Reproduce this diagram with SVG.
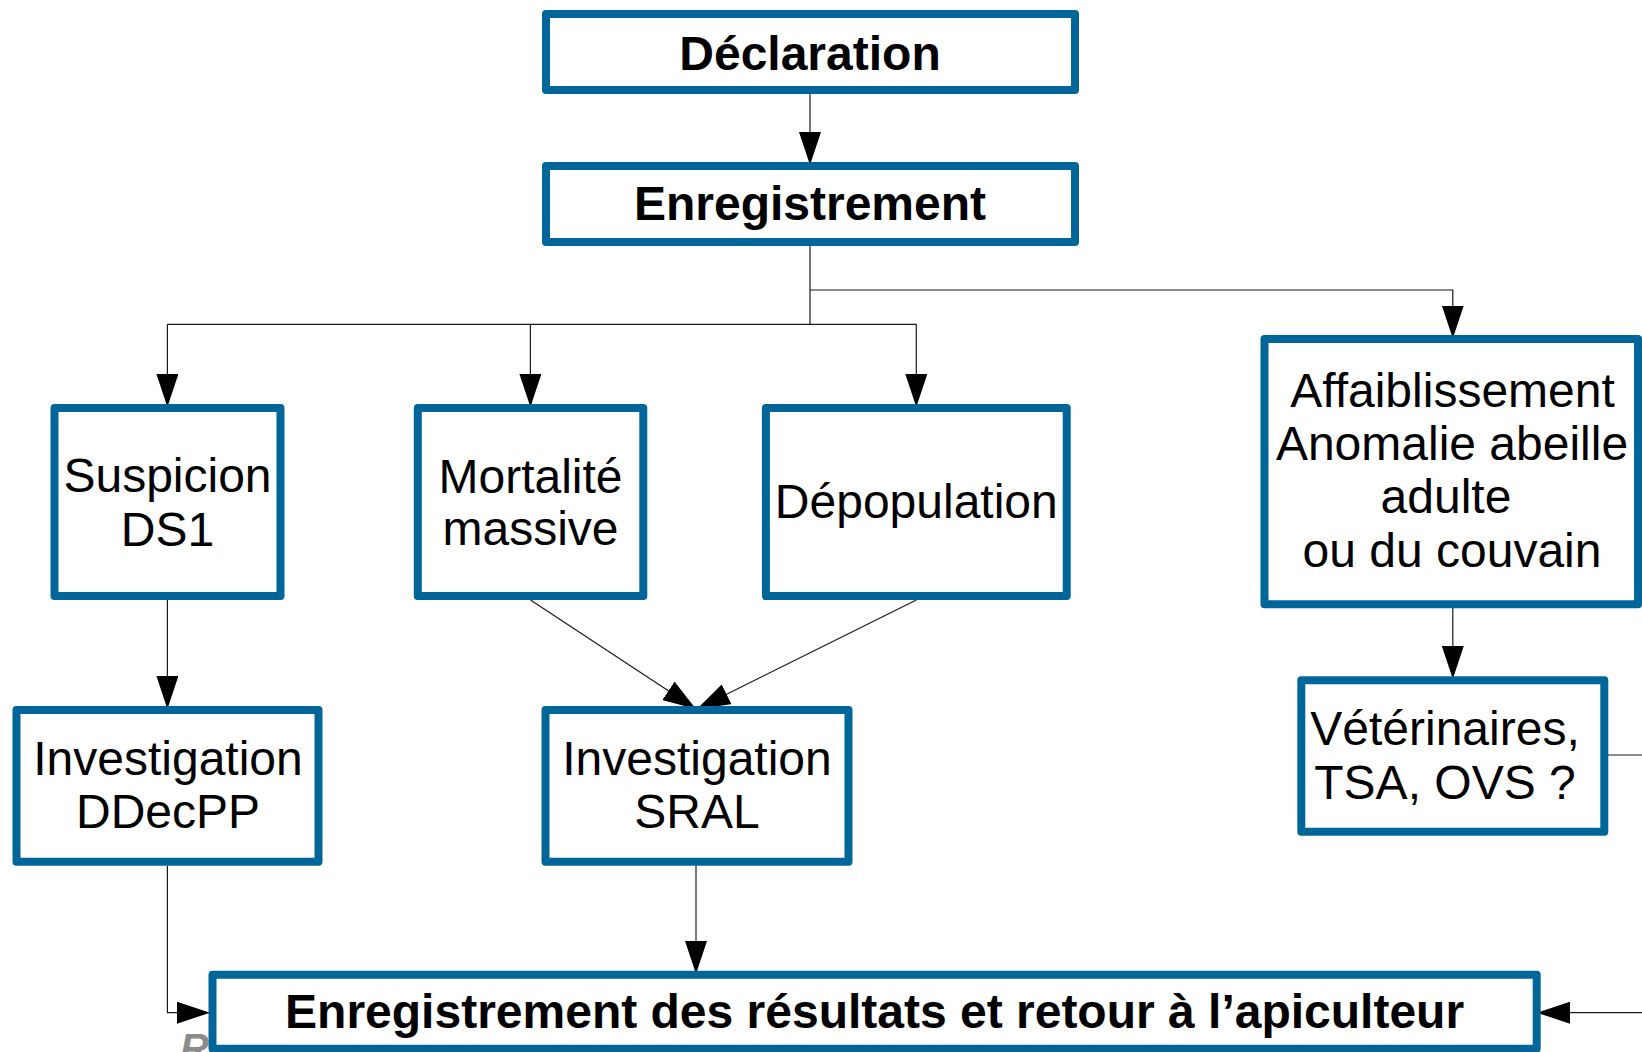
<svg xmlns="http://www.w3.org/2000/svg" width="1642" height="1052" viewBox="0 0 1642 1052">
<defs>
<style>
.box{fill:#fff;stroke:#006699;stroke-width:8;stroke-linejoin:round}
.t{font-family:"Liberation Sans",Arial,sans-serif;font-size:48px;fill:#000;text-anchor:middle}
.b{font-weight:bold}
.c{fill:none;stroke:#1a1a1a;stroke-width:1.2}
</style>
<marker id="ah" markerUnits="userSpaceOnUse" markerWidth="34" markerHeight="22" refX="33" refY="11" orient="auto">
<path d="M0,0 L33,11 L0,22 z" fill="#000"/>
</marker>
</defs>
<rect width="1642" height="1052" fill="#fff"/>
<text x="180" y="1062" font-family="'Liberation Sans',Arial,sans-serif" font-size="40" font-weight="bold" font-style="italic" fill="#8c8c8c">R</text>
<g id="connectors">
<path class="c" d="M810,94 V165" marker-end="url(#ah)"/>
<path class="c" d="M810,246 V324.3"/>
<path class="c" d="M167.4,324.3 H916.3"/>
<path class="c" d="M167.4,324.3 V407" marker-end="url(#ah)"/>
<path class="c" d="M530.4,324.3 V407" marker-end="url(#ah)"/>
<path class="c" d="M916.3,324.3 V407" marker-end="url(#ah)"/>
<path class="c" d="M810,290 H1452.8 V338.5" marker-end="url(#ah)"/>
<path class="c" d="M167.4,600 V709" marker-end="url(#ah)"/>
<path class="c" d="M530.5,600 L696,709" marker-end="url(#ah)"/>
<path class="c" d="M916.3,600 L697,709" marker-end="url(#ah)"/>
<path class="c" d="M1452.8,608 V679" marker-end="url(#ah)"/>
<path class="c" d="M167.4,865.7 V1012.7 H210" marker-end="url(#ah)"/>
<path class="c" d="M696,865.7 V974" marker-end="url(#ah)"/>
<path class="c" d="M1608,755 H1660 V1012.7 H1537" marker-end="url(#ah)"/>
</g>
<g id="declaration">
<rect class="box" x="546" y="14" width="529" height="76"/>
<text class="t b" x="810" y="70">Déclaration</text>
</g>
<g id="enregistrement">
<rect class="box" x="546" y="166" width="529" height="76"/>
<text class="t b" x="810" y="220">Enregistrement</text>
</g>
<g id="suspicion">
<rect class="box" x="54.5" y="408" width="226" height="188"/>
<text class="t" x="167.5" y="491.7">Suspicion</text>
<text class="t" x="167.5" y="546">DS1</text>
</g>
<g id="mortalite">
<rect class="box" x="417.8" y="408" width="225.5" height="188"/>
<text class="t" x="530.5" y="492.7">Mortalité</text>
<text class="t" x="530.5" y="545">massive</text>
</g>
<g id="depopulation">
<rect class="box" x="765.9" y="408" width="300.8" height="188"/>
<text class="t" x="916.3" y="518.3">Dépopulation</text>
</g>
<g id="affaiblissement">
<rect class="box" x="1264.5" y="339" width="373.5" height="265.3"/>
<text class="t" x="1452.5" y="406.7">Affaiblissement</text>
<text class="t" x="1452" y="460">Anomalie abeille</text>
<text class="t" x="1446" y="513.3">adulte</text>
<text class="t" x="1452" y="566.7">ou du couvain</text>
</g>
<g id="investigation-ddecpp">
<rect class="box" x="16.5" y="710" width="302" height="151.7"/>
<text class="t" x="168" y="775">Investigation</text>
<text class="t" x="168" y="828.3">DDecPP</text>
</g>
<g id="investigation-sral">
<rect class="box" x="545.5" y="710" width="303" height="151.7"/>
<text class="t" x="697" y="775">Investigation</text>
<text class="t" x="697" y="828.3">SRAL</text>
</g>
<g id="veterinaires">
<rect class="box" x="1301.3" y="680.3" width="303" height="151.4"/>
<text class="t" x="1445" y="745">Vétérinaires,</text>
<text class="t" x="1445" y="799.3">TSA, OVS ?</text>
</g>
<g id="resultats">
<rect class="box" x="212.5" y="974.7" width="1324.2" height="74"/>
<text class="t b" x="874.6" y="1028.3">Enregistrement des résultats et retour à l’apiculteur</text>
</g>
</svg>
